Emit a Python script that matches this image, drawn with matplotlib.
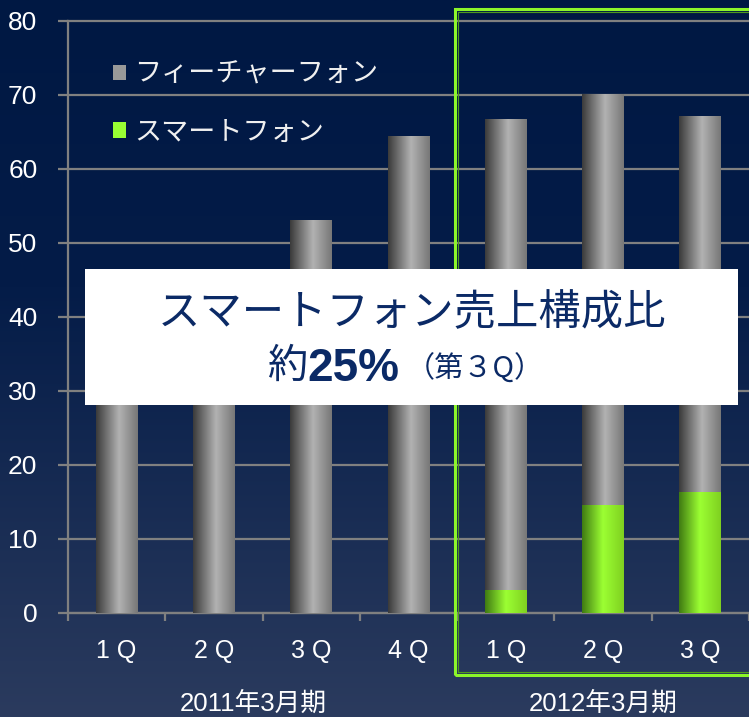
import matplotlib
matplotlib.use('Agg')
import matplotlib.pyplot as plt
import numpy as np
from matplotlib.colors import LinearSegmentedColormap
from matplotlib.patches import Rectangle

plt.rcParams['font.family'] = ['Liberation Sans', 'Noto Sans CJK JP', 'DejaVu Sans']

# data (2011 1Q/2Q tops are hidden behind the box -> estimated)
quarters = ['1 Q', '2 Q', '3 Q', '4 Q', '1 Q', '2 Q', '3 Q']
total = [38.0, 44.0, 53.1, 64.5, 66.7, 70.2, 67.2]
smart = [0, 0, 0, 0, 3.1, 14.6, 16.4]
feature = [t - s for t, s in zip(total, smart)]
groups = ['2011年3月期', '2012年3月期']
yticks = [0, 10, 20, 30, 40, 50, 60, 70, 80]

W, H = 749, 717
fig = plt.figure(figsize=(W / 100, H / 100), dpi=100)

# background gradient
bg = fig.add_axes([0, 0, 1, 1], zorder=-10)
bg_cmap = LinearSegmentedColormap.from_list('bg', [(0, '#001843'), (0.4, '#041c48'), (1, '#2b3b5e')])
bg.imshow(np.linspace(0, 1, 256).reshape(-1, 1), cmap=bg_cmap, aspect='auto', extent=[0, 1, 0, 1])
bg.axis('off')

ax = fig.add_axes([68 / W, 1 - 613 / H, 1 - 68 / W, (613 - 21) / H])
ax.set_facecolor('none')

x = np.arange(len(quarters))
bw = 0.43
b_smart = ax.bar(x, smart, bw, color='#99ff33', zorder=3, label='スマートフォン')
b_feat = ax.bar(x, feature, bw, bottom=smart, color='#999999', zorder=3, label='フィーチャーフォン')

gray_cmap = LinearSegmentedColormap.from_list('gr', [(0, '#3a3a3a'), (0.55, '#b2b2b2'), (1, '#777777')])
green_cmap = LinearSegmentedColormap.from_list('gn', [(0, '#3f7a12'), (0.5, '#9cff33'), (1, '#7fd020')])
grad = np.linspace(0, 1, 256).reshape(1, -1)
for bars, cm in [(b_feat, gray_cmap), (b_smart, green_cmap)]:
    for b in bars:
        if b.get_height() <= 0:
            continue
        bx, by, w, h = b.get_x(), b.get_y(), b.get_width(), b.get_height()
        im = ax.imshow(grad, cmap=cm, extent=[bx, bx + w, by, by + h], aspect='auto', zorder=3.1)
        im.set_clip_path(b)

ax.set_xlim(-0.5, len(quarters) - 0.5)
ax.set_ylim(0, 80)
ax.set_yticks(yticks)
ax.grid(axis='y', color='#808080', linewidth=1.6, zorder=1)
ax.set_axisbelow(True)
for gl in ax.get_ygridlines():
    gl.set_clip_on(False)
for s in ['top', 'right']:
    ax.spines[s].set_visible(False)
for s in ['left', 'bottom']:
    ax.spines[s].set_color('#808080')
    ax.spines[s].set_linewidth(1.6)
ax.tick_params(axis='y', colors='#808080', length=7, width=1.6, pad=15, labelsize=19, labelcolor='white')

ax.set_xticks(np.arange(len(quarters) + 1) - 0.5)
ax.set_xticklabels([])
ax.tick_params(axis='x', which='major', colors='#808080', length=6, width=1.6)
ax.set_xticks(x, minor=True)
ax.set_xticklabels(quarters, minor=True)
ax.tick_params(axis='x', which='minor', length=0, pad=19, labelsize=18, labelcolor='white')

# group labels
ax.text(1.4, -12.2, groups[0], ha='center', va='center', fontsize=18.5, color='white')
ax.text(5.0, -12.2, groups[1], ha='center', va='center', fontsize=18.5, color='white')

leg = ax.legend(handles=[b_feat, b_smart], loc='upper left', bbox_to_anchor=(0.03, 0.972),
                frameon=False, fontsize=19.5, handlelength=0.5, handleheight=0.5,
                handletextpad=0.3, labelspacing=1.17, labelcolor='#f0f0f0')

# highlight frame for FY2012
fig.patches.append(Rectangle((455 / W, 1 - 675 / H), 300 / W, (675 - 9) / H, transform=fig.transFigure,
                             fill=False, ec='#8cf52a', lw=2.2, zorder=3))
fig.patches.append(Rectangle((458 / W, 1 - 672 / H), 300 / W, (672 - 12) / H, transform=fig.transFigure,
                             fill=False, ec='#4f9a1e', lw=0.8, zorder=3))

# white callout box
fig.patches.append(Rectangle((85 / W, 1 - 405 / H), (738 - 85) / W, (405 - 269) / H, transform=fig.transFigure,
                             fc='white', ec='none', zorder=5))
navy = '#0b2a66'
fig.text(412 / W, 1 - 313 / H, 'スマートフォン売上構成比', ha='center', va='center', fontsize=30.5,
         color=navy, family=['Noto Sans CJK JP', 'DejaVu Sans'], zorder=6)
fig.text(267 / W, 1 - 378 / H, '約', ha='left', va='baseline', fontsize=29, color=navy,
         family=['Noto Sans CJK JP', 'DejaVu Sans'], zorder=6)
fig.text(307 / W, 1 - 381 / H, '25%', ha='left', va='baseline', fontsize=33, color=navy,
         fontweight='bold', zorder=6)
fig.text(406 / W, 1 - 378 / H, '（第３Q）', ha='left', va='baseline', fontsize=21, color=navy,
         family=['Noto Sans CJK JP', 'DejaVu Sans'], zorder=6)

fig.savefig('out.png', dpi=100)
